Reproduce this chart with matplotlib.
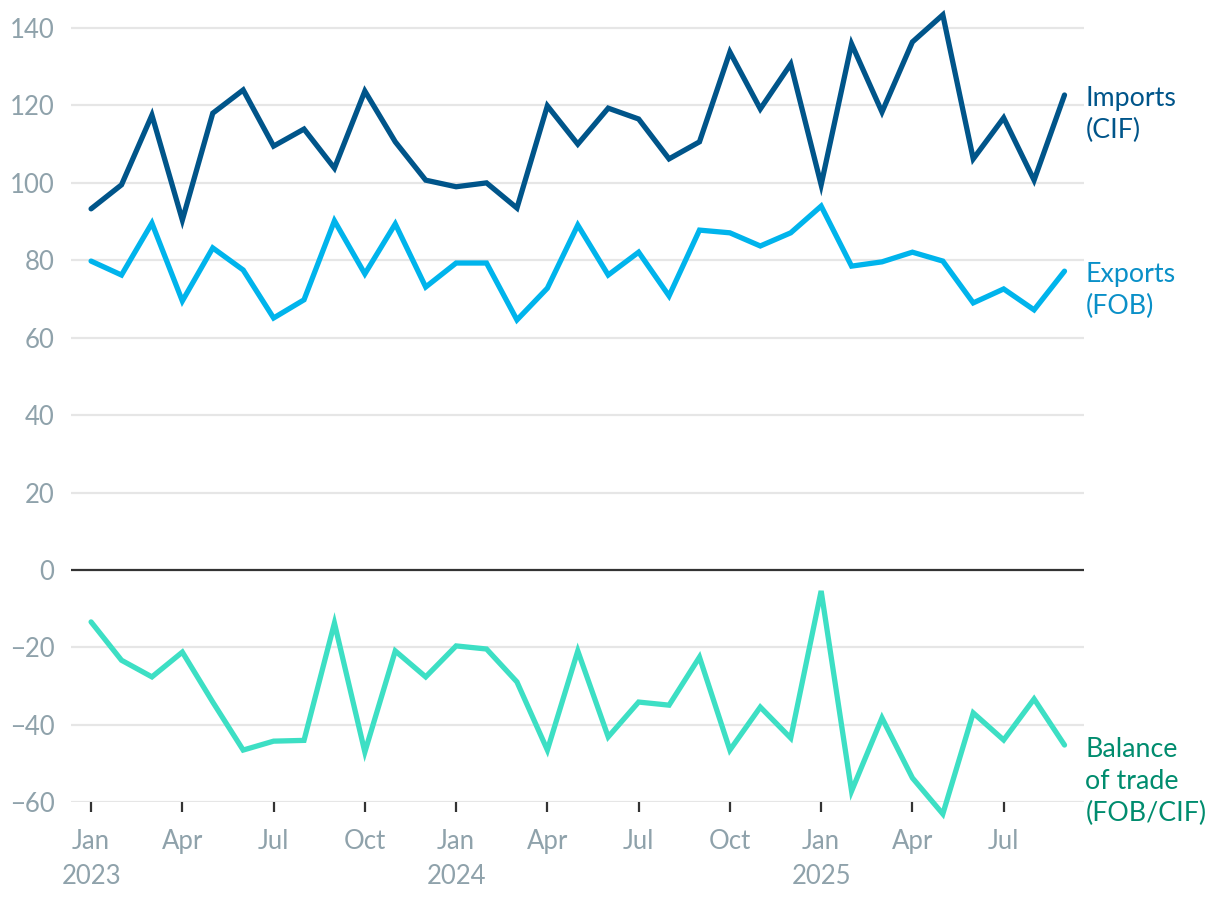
import matplotlib
matplotlib.use("Agg")
import matplotlib.pyplot as plt

months = ["Jan", "Feb", "Mar", "Apr", "May", "Jun", "Jul", "Aug", "Sep", "Oct", "Nov", "Dec"]
years = [2023, 2024, 2025]

imports_cif = [93.3, 99.5, 117.5, 90.4, 118.0, 124.0, 109.5, 113.9, 103.8, 123.7, 110.6, 100.7,
               99.0, 100.0, 93.5, 119.9, 110.0, 119.3, 116.5, 106.2, 110.6, 133.8, 119.1, 130.7,
               99.5, 135.9, 118.3, 136.4, 143.4, 106.2, 116.8, 100.7, 122.7]
exports_fob = [79.8, 76.2, 89.6, 69.5, 83.2, 77.5, 65.1, 69.8, 90.2, 76.5, 89.4, 73.1,
               79.3, 79.3, 64.6, 72.8, 89.1, 76.2, 82.1, 70.8, 87.8, 87.1, 83.7, 87.1,
               94.0, 78.5, 79.6, 82.1, 79.8, 69.0, 72.6, 67.2, 77.2]
balance = [-13.4, -23.3, -27.6, -21.2, -34.1, -46.5, -44.2, -44.0, -13.7, -47.0, -20.9, -27.6,
           -19.6, -20.4, -28.9, -46.5, -20.9, -43.1, -34.1, -34.9, -22.5, -46.5, -35.4, -43.4,
           -5.4, -57.1, -38.2, -53.7, -63.0, -36.9, -43.9, -33.3, -45.2]

series_labels = ["Imports\n(CIF)", "Exports\n(FOB)", "Balance\nof trade\n(FOB/CIF)"]
line_colors = ["#00558a", "#00b4ec", "#3ddfc4"]
label_colors = ["#00558a", "#0a90c8", "#008c6e"]
y_ticks = [-60, -40, -20, 0, 20, 40, 60, 80, 100, 120, 140]

plt.rcParams['font.family'] = ['Lato', 'DejaVu Sans']

fig = plt.figure(figsize=(12.2, 9.02), dpi=100)
ax = fig.add_axes([0.0582, 0.1105, 0.8303, 0.8799])

x = list(range(len(imports_cif)))
for ys, c in zip([imports_cif, exports_fob, balance], line_colors):
    ax.plot(x, ys, color=c, lw=3.8, solid_joinstyle='miter', solid_capstyle='round',
            clip_on=False, zorder=3)

ax.set_xlim(-0.66, 32.64)
ax.set_ylim(-60, 145)

for yv in y_ticks:
    if yv == 0:
        ax.axhline(0, color="#333333", lw=1.6, zorder=2)
    else:
        ax.axhline(yv, color="#e6e6e6", lw=1.6, zorder=1)

ax.set_yticks(y_ticks)
ax.set_yticklabels([("\u2212" + str(-v)) if v < 0 else str(v) for v in y_ticks])
xt = list(range(0, len(x), 3))
xl = []
for i in xt:
    m = months[i % 12]
    if i % 12 == 0:
        xl.append(m + "\n" + str(years[i // 12]))
    else:
        xl.append(m)
ax.set_xticks(xt)
ax.set_xticklabels(xl, linespacing=1.48)

for s in ax.spines.values():
    s.set_visible(False)
ax.tick_params(axis='y', length=0, pad=12, labelsize=18.5, labelcolor="#8fa2ab")
ax.tick_params(axis='x', length=7.5, width=1.6, color="#333333", pad=12,
               labelsize=18.5, labelcolor="#8fa2ab")

line_h_pt = 23.8
for ys, lab, c in zip([imports_cif, exports_fob, balance], series_labels, label_colors):
    n = lab.count("\n")
    ax.annotate(lab, xy=(x[-1], ys[-1]), xytext=(15, -7 - n * line_h_pt),
                textcoords='offset points',
                va='baseline', ha='left', fontsize=19.3, color=c, linespacing=1.34,
                annotation_clip=False)

fig.savefig("out.png", dpi=100)
